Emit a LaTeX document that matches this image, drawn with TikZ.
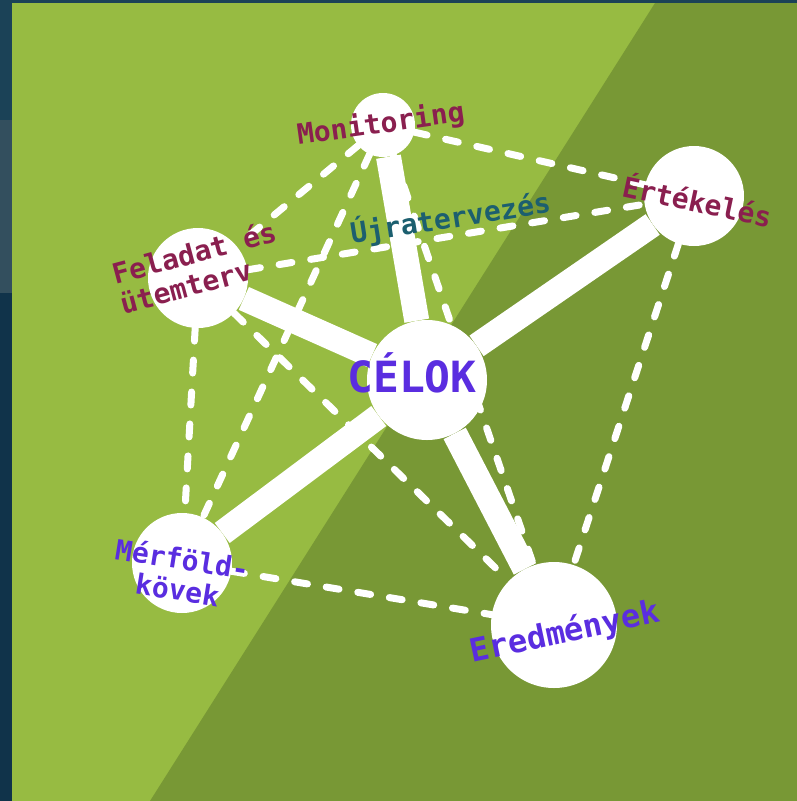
\documentclass[tikz,border=0pt]{standalone}
\usepackage{fontspec}
\newfontfamily\labelfont{DejaVu Sans Mono}
\usetikzlibrary{positioning}

\definecolor{lightleaf}{HTML}{97BB42}
\definecolor{darkleaf}{HTML}{789835}
\definecolor{navytop}{HTML}{1B4257}
\definecolor{navymid}{HTML}{334F5E}
\definecolor{navylow}{HTML}{10334A}
\definecolor{maroontext}{HTML}{8A1F4F}
\definecolor{violettext}{HTML}{5A2DE0}
\definecolor{tealtext}{HTML}{1C5F6F}

\begin{document}
\begin{tikzpicture}[%
    x=1pt,
    y=-1pt,
    hub/.style={circle, fill=white, inner sep=0pt, minimum size=#1},
    spoke/.style={draw=white, line width=25pt},
    link/.style={draw=white, line width=7pt, line cap=round, dash pattern=on 13pt off 19pt},
    tag/.style={inner sep=0pt, font=\labelfont\bfseries\fontsize{28pt}{31pt}\selectfont},
    ]

    \useasboundingbox (0,0) rectangle (797,801);
    \fill[navytop] (0,0) rectangle (12,120);
    \fill[navymid] (0,120) rectangle (12,293);
    \fill[navylow] (0,293) rectangle (12,801);
    \fill[navytop] (0,0) rectangle (797,3);
    \fill[lightleaf] (12,3) rectangle (797,801);
    \fill[darkleaf] (655,3) -- (797,3) -- (797,801) -- (150,801) -- cycle;

    \node[hub=64pt]  (mon)  at (383,125) {};
    \node[hub=100pt] (plan) at (198,278) {};
    \node[hub=100pt] (eval) at (694,196) {};
    \node[hub=120pt] (goal) at (427,380) {};
    \node[hub=100pt] (mile) at (182,563) {};
    \node[hub=126pt] (res)  at (554,625) {};

    \path[link] (mon) edge (plan) edge (mile) edge (eval) edge (res);
    \path[link] (plan) edge (eval) edge (mile) edge (res);
    \path[link] (eval) edge (res);
    \path[link] (mile) edge (res);

    \path[spoke] (goal) edge (mon) edge (plan) edge (eval) edge (mile) edge (res);

    \node[tag, maroontext, anchor=base, rotate=8] (mon-tag) at (382,133) {Monitoring};
    \node[tag, maroontext, align=left, rotate=15] (plan-tag) at (198,267) {Feladat és\\ütemterv};
    \node[tag, maroontext, anchor=base, rotate=-12] (eval-tag) at (695,212) {Értékelés};
    \node[tag, tealtext, anchor=base, rotate=9] (replan-tag) at (452,228) {Újratervezés};
    \node[tag, violettext, anchor=base, font=\labelfont\bfseries\fontsize{43pt}{47pt}\selectfont] (goal-tag) at (412,392) {CÉLOK};
    \node[tag, violettext, align=center, rotate=-9] (mile-tag) at (180,574) {Mérföld-\\kövek};
    \node[tag, violettext, anchor=base, rotate=12, font=\labelfont\bfseries\fontsize{32pt}{36pt}\selectfont] (res-tag) at (567,642) {Eredmények};

\end{tikzpicture}
\end{document}
